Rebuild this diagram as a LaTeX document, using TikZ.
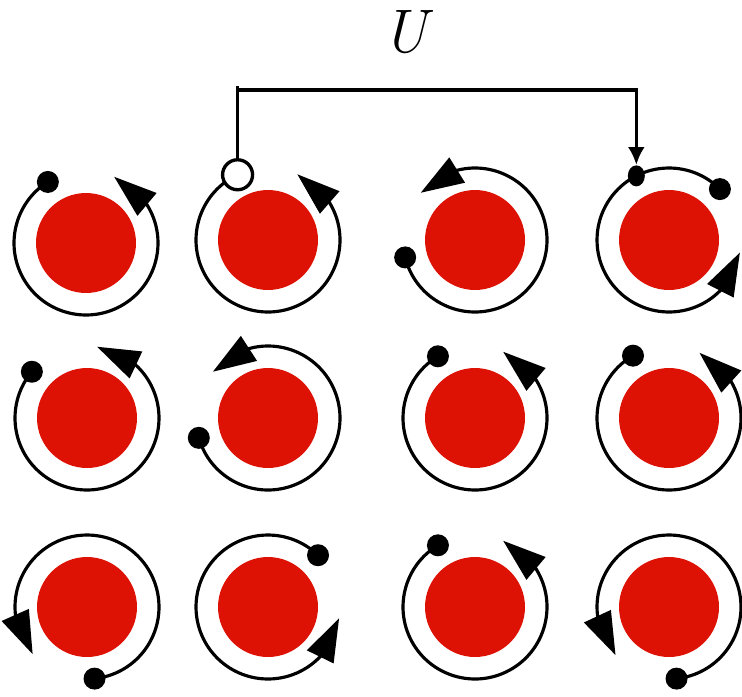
\documentclass[tikz,border=0pt]{standalone}
\usetikzlibrary{arrows.meta,bending,shapes.geometric}
\definecolor{diskred}{RGB}{222,18,4}
\tikzset{
  ring/.style={line width=1.8pt,-{Triangle[length=0.86cm,width=0.58cm]}},
  elecdot/.style={circle,fill=black,inner sep=0pt,minimum size=0.44cm},
  holedot/.style={circle,draw=black,line width=1.9pt,fill=white,inner sep=0pt,minimum size=0.6cm},
  pairdot/.style={ellipse,fill=black,inner sep=0pt,minimum width=0.34cm,minimum height=0.42cm},
  hop/.style={line width=2pt}
}
% one site: red disk of radius 1cm
\newcommand\site[2]{\coordinate (#1) at #2; \fill[diskred] (#1) circle[radius=1cm];}
% orbit around site #1 from angle #2 to #3, with an electron dot at the start
\newcommand\orbit[3]{%
  \draw[ring] ([shift={(#2:1.44cm)}]#1) arc[start angle=#2,end angle=#3,radius=1.44cm];
  \node[elecdot] (#1e) at ([shift={(#2:1.44cm)}]#1) {};}
\begin{document}
\begin{tikzpicture}[x=0.02cm,y=0.02cm]
\useasboundingbox (0,0) rectangle (742,-696);

% sites
\site{c11}{(86,-243)}  \site{c12}{(268,-240)} \site{c13}{(475,-240)} \site{c14}{(669,-240)}
\site{c21}{(87,-418)}  \site{c22}{(268,-418)} \site{c23}{(475,-418)} \site{c24}{(669,-418)}
\site{c31}{(87,-607)}  \site{c32}{(268,-607)} \site{c33}{(475,-607)} \site{c34}{(669,-607)}

% orbits
\orbit{c11}{122}{427}
\draw[ring] ([shift={(115:1.44cm)}]c12) arc[start angle=115,end angle=426,radius=1.44cm];
\orbit{c13}{194}{499}
\orbit{c14}{45}{350}
\orbit{c21}{140}{442}
\orbit{c22}{196}{500}
\orbit{c23}{121}{427}
\orbit{c24}{120}{425}
\orbit{c31}{276}{581}
\orbit{c32}{46}{351}
\orbit{c33}{121}{427}
\orbit{c34}{276}{582}

% hole and doubly occupied site
\node[holedot] (hole) at ([shift={(115:1.44cm)}]c12) {};
\node[pairdot] (pair) at ([shift={(117:1.44cm)}]c14) {};

% hopping bracket
\coordinate (bartop) at (237,-86);
\coordinate (bar) at (237,-90);
\draw[hop] (hole.north) -- (hole.north |- bartop);
\draw[hop,-{Latex[length=0.36cm,width=0.34cm]}] (hole.north |- bar) -| (pair.north);
\node (U) at (405,-32) {\fontsize{35}{40}\selectfont\itshape U};
\end{tikzpicture}
\end{document}
